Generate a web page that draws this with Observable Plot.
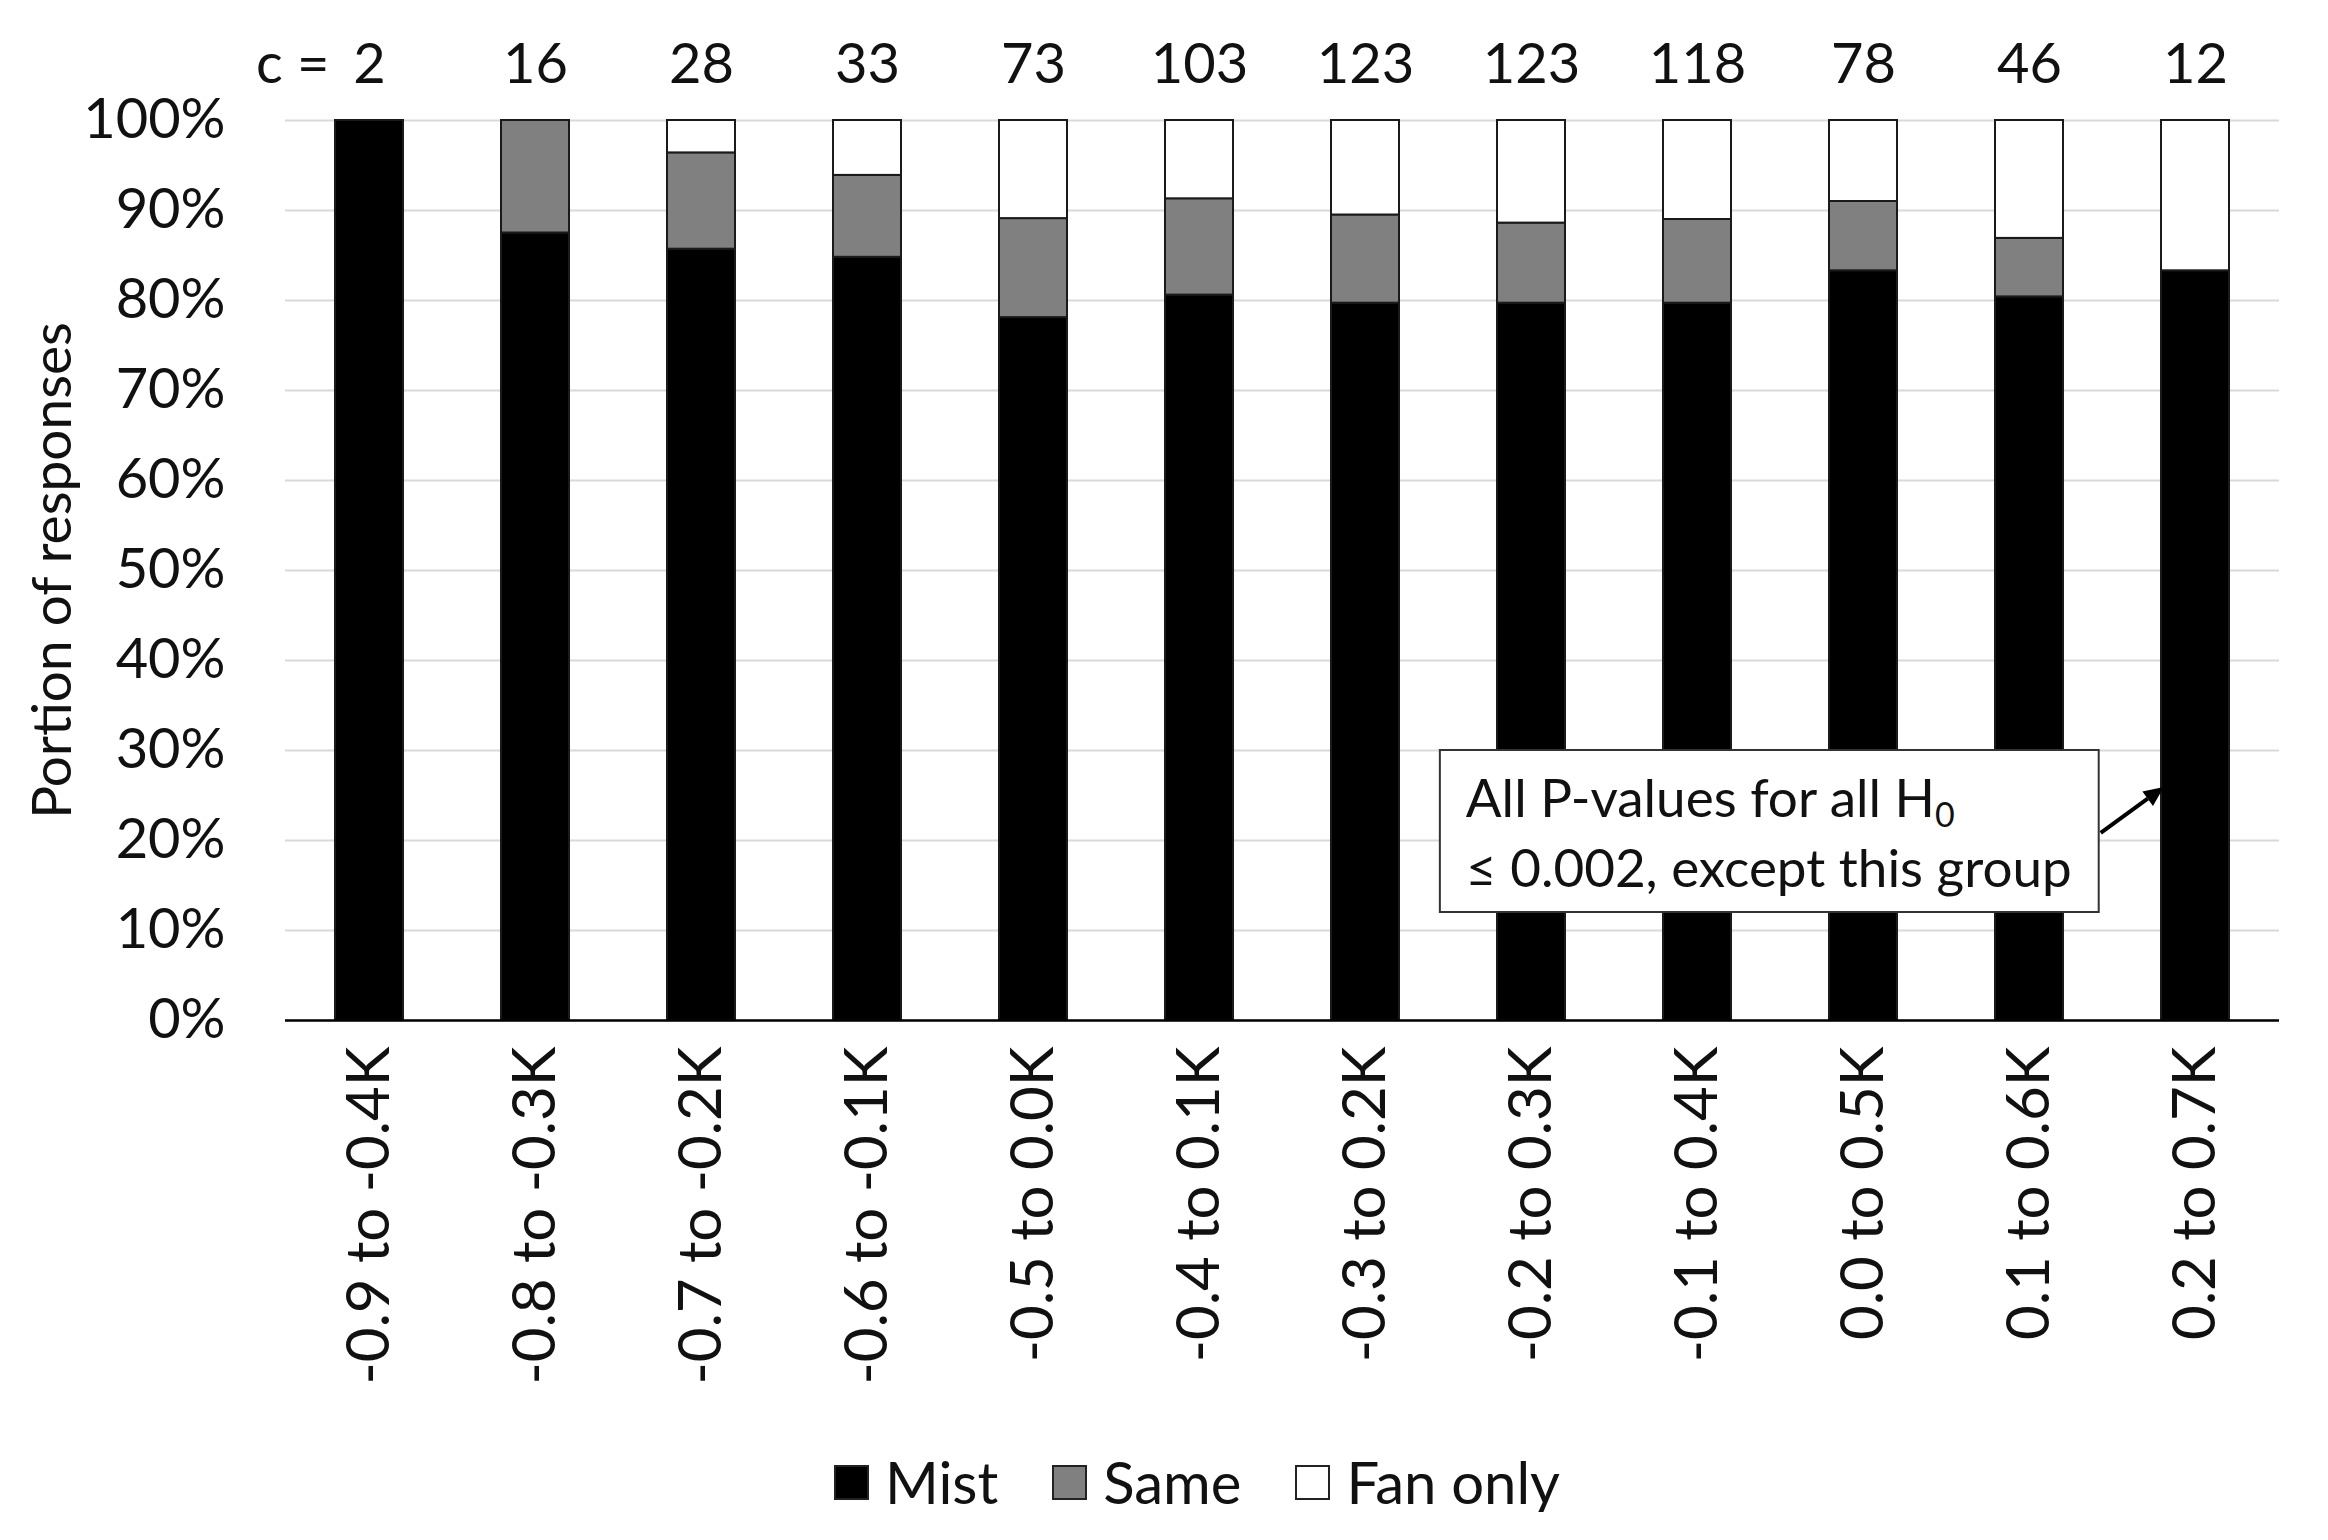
<!DOCTYPE html>
<html><head><meta charset="utf-8">
<script src="https://cdn.jsdelivr.net/npm/d3@7"></script>
<script src="https://cdn.jsdelivr.net/npm/@observablehq/plot@0.6"></script>
<style>
body{margin:0;background:#fff;font-family:Lato, sans-serif;}
#legend{display:flex;justify-content:center;align-items:center;height:60px;margin-top:32px;padding-left:66px;font-size:58px;color:#111;line-height:1}
.sw{width:35px;height:35px;border:2px solid #222;box-sizing:border-box;margin-right:16px}
.item{display:flex;align-items:center;margin:0 27px}
</style></head><body>
<div id="chart"></div>
<div id="legend"></div>
<script>
const categories = ["-0.9 to -0.4K","-0.8 to -0.3K","-0.7 to -0.2K","-0.6 to -0.1K","-0.5 to 0.0K","-0.4 to 0.1K","-0.3 to 0.2K","-0.2 to 0.3K","-0.1 to 0.4K","0.0 to 0.5K","0.1 to 0.6K","0.2 to 0.7K"];
const counts = [2, 16, 28, 33, 73, 103, 123, 123, 118, 78, 46, 12];
const series = ["Mist", "Same", "Fan only"];
const seriesColors = ["#000000", "#808080", "#ffffff"];
const mist    = [100, 87.5, 85.7, 84.8, 78.1, 80.6, 79.7, 79.7, 79.7, 83.3, 80.4, 83.3];
const same    = [0, 12.5, 10.7, 9.1, 11.0, 10.7, 9.8, 8.9, 9.3, 7.7, 6.5, 0];
const fanOnly = [0, 0, 3.6, 6.1, 10.9, 8.7, 10.5, 11.4, 11.0, 9.0, 13.1, 16.7];
const yTicks = [0, 10, 20, 30, 40, 50, 60, 70, 80, 90, 100];
const yLabel = "Portion of responses";
const countPrefix = "c =";
const noteLine1 = "All P-values for all H";
const noteSub = "0";
const noteLine2 = "≤ 0.002, except this group";

const seriesValues = [mist, same, fanOnly];
const rows = [];
categories.forEach((c, i) => {
  series.forEach((s, j) => {
    const v = seriesValues[j][i];
    if (v > 0) rows.push({category: c, series: s, value: v});
  });
});

const chart = Plot.plot({
  width: 2328, height: 1420,
  marginLeft: 285, marginRight: 49, marginTop: 120, marginBottom: 400,
  style: {fontFamily: "Lato, sans-serif", fontSize: "56px", color: "#111", background: "#fff"},
  x: {domain: categories, paddingInner: 0.59, paddingOuter: 0.295, label: null, tickSize: 0, tickPadding: 26, tickRotate: -90},
  y: {domain: [0, 100], ticks: yTicks, tickFormat: d => d + "%", label: null, tickSize: 0, tickPadding: 60},
  color: {domain: series, range: seriesColors},
  marks: [
    Plot.ruleY(yTicks, {stroke: "#d9d9d9", strokeWidth: 2}),
    Plot.barY(rows, {x: "category", y: "value", fill: "series", stroke: "#1a1a1a", strokeWidth: 2}),
    Plot.ruleY([0], {stroke: "#000", strokeWidth: 2.5}),
    Plot.text(categories, {x: d => d, text: (d, i) => String(counts[i]), frameAnchor: "top", dy: -77, fontSize: 56}),
    Plot.text([categories[0]], {x: d => d, text: () => countPrefix, frameAnchor: "top", dy: -77, dx: -40, textAnchor: "end", fontSize: 56}),
    Plot.text([yLabel], {text: d => d, frameAnchor: "left", textAnchor: "middle", rotate: -90, dx: -232, fontSize: 55})
  ]
});
document.getElementById("chart").appendChild(chart);
// x tick labels a little larger, as in the reference
d3.select(chart).selectAll('g[aria-label^="x-axis"] text').attr("font-size", 60);
d3.select(chart).selectAll('g[aria-label^="x-axis"]').attr("font-size", 60);

// annotation, positioned through the plot's own scales
const sx = chart.scale("x"), sy = chart.scale("y");
const xb = d3.scaleBand().domain(sx.domain).range(sx.range)
  .paddingInner(sx.paddingInner ?? 0.59).paddingOuter(sx.paddingOuter ?? 0.295).align(sx.align ?? 0.5);
const ys = d3.scaleLinear().domain(sy.domain).range(sy.range);
const center = c => xb(c) + xb.bandwidth() / 2;
const step = xb.step();
const boxL = center(categories[7]) - 0.55 * step;
const boxR = center(categories[10]) + 0.415 * step;
const boxT = ys(30), boxB = ys(12);
const svg = d3.select(chart);
const g = svg.append("g").attr("font-family", "Lato, sans-serif").attr("text-anchor", "start");
g.append("rect").attr("x", boxL).attr("y", boxT).attr("width", boxR - boxL).attr("height", boxB - boxT)
  .attr("fill", "#fff").attr("stroke", "#333").attr("stroke-width", 2);
const t1 = g.append("text").attr("x", boxL + 26).attr("y", boxT + (boxB - boxT) * 0.30).attr("dy", "0.35em")
  .attr("font-size", 53).attr("fill", "#111").attr("text-anchor", "start").text(noteLine1);
t1.append("tspan").attr("font-size", 34).attr("dy", "0.3em").text(noteSub);
g.append("text").attr("x", boxL + 26).attr("y", boxT + (boxB - boxT) * 0.73).attr("dy", "0.35em")
  .attr("font-size", 53).attr("fill", "#111").attr("text-anchor", "start").text(noteLine2);
// arrow
const ax1 = boxR + 2, ay1 = ys(20.8);
const ax2 = xb(categories[11]) + 2, ay2 = ys(25.9);
const ang = Math.atan2(ay2 - ay1, ax2 - ax1);
const hl = 20, hw = 9;
const bx = ax2 - hl * Math.cos(ang), by = ay2 - hl * Math.sin(ang);
g.append("line").attr("x1", ax1).attr("y1", ay1).attr("x2", bx).attr("y2", by).attr("stroke", "#000").attr("stroke-width", 4);
g.append("path").attr("d", `M${ax2},${ay2}L${bx - hw * Math.sin(ang)},${by + hw * Math.cos(ang)}L${bx + hw * Math.sin(ang)},${by - hw * Math.cos(ang)}Z`).attr("fill", "#000");

// legend
const legend = document.getElementById("legend");
series.forEach((s, i) => {
  const item = document.createElement("div"); item.className = "item";
  const sw = document.createElement("div"); sw.className = "sw"; sw.style.background = seriesColors[i];
  const lab = document.createElement("span"); lab.textContent = s;
  item.appendChild(sw); item.appendChild(lab); legend.appendChild(item);
});
</script>
</body></html>
